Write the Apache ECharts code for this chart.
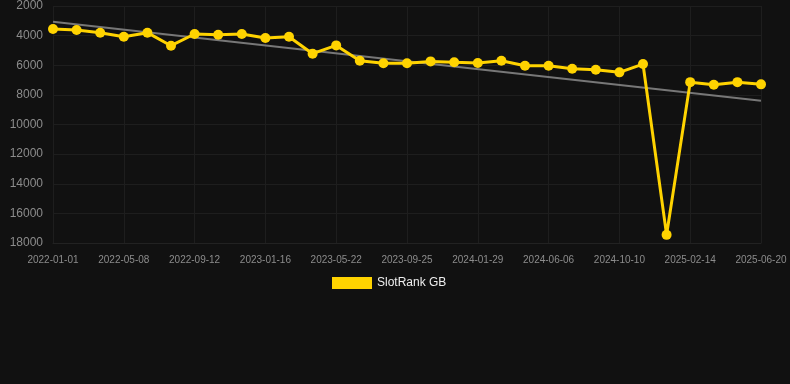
<!DOCTYPE html>
<html>
<head>
<meta charset="utf-8">
<script src="https://cdn.jsdelivr.net/npm/echarts@6/dist/echarts.min.js"></script>
<style>
html,body{margin:0;padding:0;background:#111111;}
#chart{width:790px;height:384px;}
</style>
</head>
<body>
<div id="chart"></div>
<script>
var categories = [
  "2022-01-01","2022-02-12","2022-03-26","2022-05-08","2022-06-19","2022-07-31",
  "2022-09-12","2022-10-24","2022-12-05","2023-01-16","2023-02-27","2023-04-10",
  "2023-05-22","2023-07-03","2023-08-14","2023-09-25","2023-11-06","2023-12-18",
  "2024-01-29","2024-03-12","2024-04-24","2024-06-06","2024-07-18","2024-08-29",
  "2024-10-10","2024-11-21","2025-01-02","2025-02-14","2025-03-28","2025-05-09",
  "2025-06-20"
];
var rankValues = [
  3550, 3620, 3800, 4070, 3800, 4680,
  3890, 3940, 3890, 4160, 4070, 5220,
  4660, 5700, 5870, 5870, 5740, 5800,
  5850, 5700, 6030, 6030, 6240, 6300,
  6480, 5920, 17450, 7140, 7320, 7140,
  7290
];
var trendStart = 3060;
var trendEnd = 8400;
var yTicks = { min: 2000, max: 18000, step: 2000 };
var seriesName = "SlotRank GB";

var chart = echarts.init(document.getElementById('chart'), null, {renderer: 'canvas'});
chart.setOption({
  backgroundColor: '#111111',
  animation: false,
  grid: { left: 53, right: 29, top: 6, bottom: 141, containLabel: false },
  legend: {
    data: [seriesName],
    top: 277,
    left: 332,
    padding: 0,
    itemWidth: 40,
    itemHeight: 12,
    itemGap: 10,
    icon: 'rect',
    textStyle: { color: '#eeeeee', fontSize: 12, fontFamily: 'Liberation Sans, Arial, sans-serif' }
  },
  xAxis: {
    type: 'category',
    data: categories,
    boundaryGap: false,
    axisLine: { show: true, lineStyle: { color: '#222222' } },
    axisTick: { show: false },
    axisLabel: {
      interval: 2,
      color: '#8c8c8c',
      fontSize: 10,
      margin: 12,
      fontFamily: 'Liberation Sans, Arial, sans-serif'
    },
    splitLine: { show: true, interval: 2, lineStyle: { color: '#1e1e1e' } }
  },
  yAxis: {
    type: 'value',
    inverse: true,
    min: yTicks.min,
    max: yTicks.max,
    interval: yTicks.step,
    axisLine: { show: false },
    axisTick: { show: false },
    axisLabel: {
      color: '#8c8c8c',
      fontSize: 12,
      margin: 10,
      formatter: function (v) { return String(v); },
      fontFamily: 'Liberation Sans, Arial, sans-serif'
    },
    splitLine: { show: true, lineStyle: { color: '#1e1e1e' } }
  },
  series: [
    {
      name: 'Trend',
      type: 'line',
      data: [[categories[0], trendStart], [categories[categories.length - 1], trendEnd]],
      symbol: 'none',
      lineStyle: { color: '#777777', width: 2 },
      itemStyle: { color: '#777777' },
      z: 1,
      silent: true
    },
    {
      name: seriesName,
      type: 'line',
      data: rankValues,
      symbol: 'circle',
      symbolSize: 10,
      lineStyle: { color: '#FFD300', width: 3 },
      itemStyle: { color: '#FFD300' },
      z: 2
    }
  ]
});
</script>
</body>
</html>
